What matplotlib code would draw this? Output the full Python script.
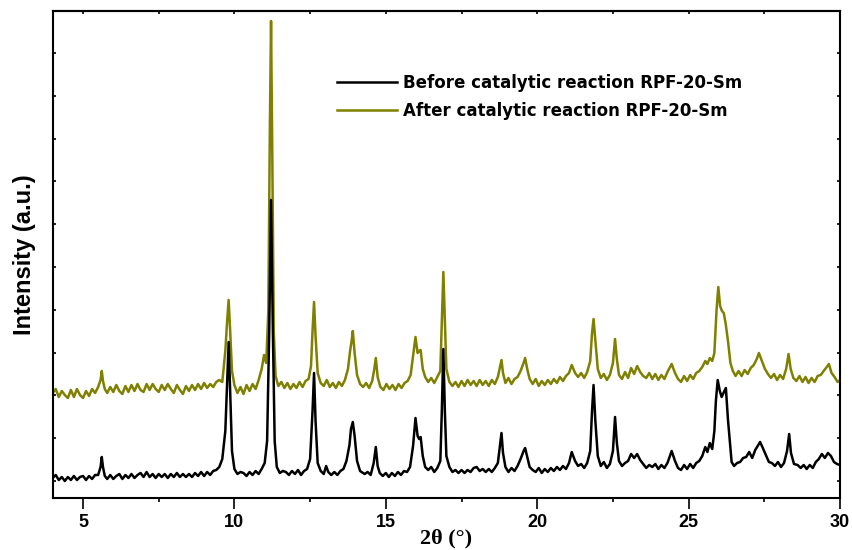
import matplotlib
matplotlib.use("Agg")
import matplotlib.pyplot as plt
from matplotlib.ticker import MultipleLocator

# 2theta (deg) and intensity (a.u.)
before_2theta = [
    4.0, 4.1, 4.2, 4.3, 4.4, 4.5, 4.6, 4.7, 4.8, 4.9, 5.0, 5.1, 5.2, 5.3, 5.4, 5.5,
    5.58, 5.62, 5.66, 5.72, 5.8, 5.9, 6.0, 6.1, 6.2, 6.3, 6.4, 6.5, 6.6, 6.7, 6.8, 6.9,
    7.0, 7.1, 7.2, 7.3, 7.4, 7.5, 7.6, 7.7, 7.8, 7.9, 8.0, 8.1, 8.2, 8.3, 8.4, 8.5,
    8.6, 8.7, 8.8, 8.9, 9.0, 9.1, 9.2, 9.3, 9.4, 9.5, 9.6, 9.7, 9.76, 9.81, 9.86, 9.92,
    10.0, 10.1, 10.2, 10.3, 10.4, 10.5, 10.6, 10.7, 10.8, 10.9, 11.0, 11.08, 11.15, 11.21,
    11.27, 11.33, 11.4, 11.5, 11.6, 11.7, 11.8, 11.9, 12.0, 12.1, 12.2, 12.3, 12.4, 12.5,
    12.58, 12.63, 12.68, 12.75, 12.85, 12.95, 13.03, 13.1, 13.2, 13.3, 13.4, 13.5, 13.6,
    13.7, 13.8, 13.85, 13.91, 13.97, 14.05, 14.15, 14.3, 14.4, 14.5, 14.6, 14.67, 14.73,
    14.8, 14.9, 15.0, 15.1, 15.2, 15.3, 15.4, 15.5, 15.6, 15.7, 15.8, 15.9, 15.98, 16.05,
    16.1, 16.15, 16.22, 16.3, 16.4, 16.5, 16.6, 16.7, 16.8, 16.85, 16.9, 16.95, 17.0, 17.1,
    17.2, 17.3, 17.4, 17.5, 17.6, 17.7, 17.8, 17.9, 18.0, 18.1, 18.2, 18.3, 18.4, 18.5,
    18.6, 18.7, 18.77, 18.82, 18.87, 18.95, 19.05, 19.15, 19.25, 19.35, 19.45, 19.55, 19.6,
    19.67, 19.75, 19.85, 19.95, 20.05, 20.15, 20.25, 20.35, 20.45, 20.55, 20.65, 20.75,
    20.85, 20.95, 21.05, 21.14, 21.25, 21.35, 21.45, 21.55, 21.65, 21.75, 21.81, 21.86,
    21.92, 22.0, 22.1, 22.2, 22.3, 22.4, 22.5, 22.57, 22.63, 22.7, 22.8, 22.9, 23.0, 23.1,
    23.2, 23.3, 23.4, 23.5, 23.6, 23.7, 23.8, 23.9, 24.0, 24.1, 24.2, 24.3, 24.44, 24.55,
    24.65, 24.75, 24.85, 24.95, 25.05, 25.15, 25.25, 25.35, 25.45, 25.55, 25.62, 25.7,
    25.78, 25.85, 25.9, 25.96, 26.03, 26.09, 26.15, 26.23, 26.3, 26.36, 26.42, 26.5, 26.6,
    26.7, 26.8, 26.9, 27.0, 27.1, 27.2, 27.3, 27.36, 27.45, 27.55, 27.65, 27.75, 27.85,
    27.95, 28.05, 28.15, 28.25, 28.32, 28.38, 28.48, 28.6, 28.7, 28.8, 28.9, 29.0, 29.1,
    29.2, 29.3, 29.4, 29.5, 29.6, 29.7, 29.8, 29.9, 30.0,
]
before_intensity = [
    3, 6, 1, 4, 0, 4, 1, 5, 1, 4, 5, 1, 5, 2, 6, 6,
    14, 24, 14, 5, 2, 6, 2, 5, 7, 2, 6, 3, 7, 3, 6, 8,
    4, 9, 4, 7, 3, 7, 4, 7, 3, 7, 4, 8, 4, 7, 4, 7,
    4, 8, 5, 9, 5, 9, 6, 10, 11, 14, 22, 50, 100, 139, 90, 30,
    12, 7, 9, 8, 5, 9, 6, 10, 7, 12, 18, 40, 150, 281,
    150, 40, 14, 8, 10, 9, 6, 10, 7, 11, 6, 10, 12, 22,
    70, 108, 60, 18, 10, 7, 15, 9, 6, 9, 6, 10, 12,
    20, 36, 52, 59, 45, 20, 10, 7, 9, 6, 18, 34, 15,
    8, 5, 8, 4, 8, 5, 9, 6, 10, 9, 14, 35, 63, 45,
    42, 44, 25, 14, 11, 14, 9, 13, 20, 70, 132, 70, 25, 14,
    9, 11, 8, 11, 8, 11, 9, 13, 14, 10, 12, 9, 12, 9,
    13, 18, 35, 48, 28, 14, 9, 13, 10, 15, 22, 30, 33,
    24, 14, 11, 9, 13, 8, 12, 9, 13, 10, 14, 11,
    15, 12, 18, 29, 20, 15, 17, 13, 18, 30, 70, 96,
    60, 25, 15, 19, 13, 17, 30, 64, 38, 20, 15, 18, 20, 27,
    23, 27, 21, 17, 13, 16, 14, 17, 12, 16, 13, 18, 30, 20,
    13, 11, 16, 12, 17, 13, 18, 20, 25, 34, 29, 38,
    32, 50, 80, 101, 90, 84, 88, 93, 61, 40, 19, 15, 18,
    19, 23, 24, 29, 23, 31, 36, 39, 33, 26, 19, 18, 15,
    19, 14, 18, 30, 47, 28, 17, 16, 13, 16, 12, 16, 13,
    19, 22, 27, 23, 28, 25, 19, 17, 16,
]

after_2theta = [
    4.0, 4.1, 4.2, 4.3, 4.4, 4.5, 4.6, 4.7, 4.8, 4.9, 5.0, 5.1, 5.2, 5.3, 5.4, 5.5,
    5.58, 5.62, 5.66, 5.72, 5.8, 5.9, 6.0, 6.1, 6.2, 6.3, 6.4, 6.5, 6.6, 6.7, 6.8, 6.9,
    7.0, 7.1, 7.2, 7.3, 7.4, 7.5, 7.6, 7.7, 7.8, 7.9, 8.0, 8.1, 8.2, 8.3, 8.4, 8.5,
    8.6, 8.7, 8.8, 8.9, 9.0, 9.1, 9.2, 9.3, 9.4, 9.5, 9.6, 9.7, 9.76, 9.81, 9.86, 9.92,
    10.0, 10.1, 10.2, 10.3, 10.4, 10.5, 10.6, 10.7, 10.8, 10.9, 10.98, 11.05, 11.12, 11.17,
    11.21, 11.25, 11.3, 11.36, 11.45, 11.55, 11.65, 11.75, 11.85, 11.95, 12.05, 12.15,
    12.25, 12.35, 12.45, 12.53, 12.58, 12.63, 12.68, 12.75, 12.85, 12.95, 13.05, 13.15,
    13.25, 13.35, 13.45, 13.55, 13.65, 13.75, 13.82, 13.87, 13.91, 13.97, 14.05, 14.15,
    14.25, 14.35, 14.45, 14.55, 14.62, 14.67, 14.73, 14.82, 14.92, 15.02, 15.12, 15.22,
    15.32, 15.42, 15.52, 15.62, 15.72, 15.82, 15.9, 15.98, 16.05, 16.1, 16.15, 16.22,
    16.3, 16.4, 16.5, 16.6, 16.7, 16.8, 16.85, 16.9, 16.95, 17.0, 17.1, 17.2, 17.3, 17.4,
    17.5, 17.6, 17.7, 17.8, 17.9, 18.0, 18.1, 18.2, 18.3, 18.4, 18.5, 18.6, 18.7, 18.77,
    18.82, 18.87, 18.95, 19.05, 19.15, 19.25, 19.35, 19.45, 19.55, 19.6, 19.67, 19.75,
    19.85, 19.95, 20.05, 20.15, 20.25, 20.35, 20.45, 20.55, 20.65, 20.75, 20.85, 20.95,
    21.05, 21.14, 21.25, 21.35, 21.45, 21.55, 21.65, 21.75, 21.81, 21.86, 21.92, 22.0,
    22.1, 22.2, 22.3, 22.4, 22.5, 22.57, 22.63, 22.7, 22.8, 22.9, 23.0, 23.1, 23.2, 23.3,
    23.4, 23.5, 23.6, 23.7, 23.8, 23.9, 24.0, 24.1, 24.2, 24.3, 24.44, 24.55, 24.65,
    24.75, 24.85, 24.95, 25.05, 25.15, 25.25, 25.35, 25.45, 25.55, 25.62, 25.7, 25.78,
    25.85, 25.92, 25.98, 26.04, 26.1, 26.16, 26.22, 26.3, 26.38, 26.46, 26.55, 26.65,
    26.75, 26.85, 26.95, 27.05, 27.15, 27.25, 27.32, 27.42, 27.52, 27.62, 27.72, 27.82,
    27.92, 28.02, 28.12, 28.22, 28.3, 28.37, 28.46, 28.56, 28.66, 28.76, 28.86, 28.96,
    29.06, 29.16, 29.26, 29.36, 29.46, 29.56, 29.63, 29.72, 29.82, 29.92, 30.0,
]
after_intensity = [
    88, 92, 84, 90, 86, 83, 91, 84, 92, 86, 83, 90, 85, 92, 88, 94,
    101, 110, 100, 92, 88, 94, 89, 96, 90, 87, 95, 89, 96, 90, 97, 91,
    89, 97, 91, 97, 92, 89, 96, 91, 97, 92, 88, 96, 91, 87, 95, 90,
    96, 91, 97, 92, 98, 93, 97, 94, 99, 101, 99, 130, 160, 181, 150, 110,
    96, 88, 94, 87, 96, 90, 97, 92, 101, 112, 126, 118, 170, 350,
    460, 330, 150, 105, 95, 99, 93, 98, 92, 97, 93, 99,
    94, 100, 102, 115, 150, 179, 145, 108, 98, 95, 101, 94,
    98, 93, 99, 95, 101, 112, 130, 140, 150, 128, 106, 97,
    94, 98, 93, 100, 112, 123, 104, 94, 91, 97, 92, 96,
    91, 97, 93, 98, 100, 106, 125, 144, 128, 130, 131, 112,
    104, 99, 103, 98, 104, 110, 160, 209, 160, 112, 99, 95, 99, 94,
    100, 95, 101, 96, 100, 95, 101, 96, 100, 95, 101, 97, 104, 114,
    121, 108, 98, 103, 97, 102, 104, 110, 118, 123, 112, 102,
    97, 102, 95, 100, 96, 101, 97, 102, 98, 104, 100, 105,
    108, 116, 108, 104, 108, 103, 109, 120, 148, 162, 140, 112,
    103, 107, 101, 106, 118, 142, 122, 106, 102, 109, 103, 113, 107, 115,
    109, 105, 103, 108, 102, 107, 101, 106, 102, 109, 117, 108, 102,
    99, 105, 100, 106, 102, 108, 110, 114, 120, 117, 123, 120,
    128, 170, 194, 175, 170, 168, 158, 140, 118, 110, 105, 110,
    105, 111, 107, 113, 116, 122, 128, 120, 112, 107, 103, 107,
    101, 106, 102, 112, 127, 112, 103, 100, 105, 99, 104, 98,
    103, 99, 105, 106, 110, 114, 117, 108, 104, 99, 101,
]

before_label = "Before catalytic reaction RPF-20-Sm"
after_label = "After catalytic reaction RPF-20-Sm"

sans = "Liberation Sans"
serif = "Liberation Serif"

fig = plt.figure(figsize=(8.53, 5.5), dpi=100)
ax = fig.add_axes([0.0618, 0.0951, 0.923, 0.8849])

ax.plot(after_2theta, after_intensity, "-", lw=1.8, color="#808000", label=after_label)
ax.plot(before_2theta, before_intensity, "-", lw=1.8, color="black", label=before_label)

ax.set_xlim(4, 30)
ax.set_ylim(-16.7, 470)

ax.xaxis.set_major_locator(MultipleLocator(5))
ax.xaxis.set_minor_locator(MultipleLocator(2.5))
ax.yaxis.set_major_locator(MultipleLocator(42.8))

ax.tick_params(axis="x", which="major", direction="out", length=8, width=1.2, pad=4,
               labelsize=13)
ax.tick_params(axis="x", which="minor", direction="out", length=3, width=1.2)
ax.tick_params(axis="y", which="major", direction="in", length=2.5, width=1.2,
               left=True, right=True, labelleft=False)
for lab in ax.get_xticklabels():
    lab.set_fontfamily(sans)
    lab.set_fontweight("bold")

# small inward ticks along the top edge
top = ax.secondary_xaxis("top")
top.xaxis.set_major_locator(MultipleLocator(2.5))
top.tick_params(direction="in", length=2, width=1.2, labeltop=False)

for side in ["left", "right", "top", "bottom"]:
    ax.spines[side].set_linewidth(1.5)
top.spines["top"].set_linewidth(1.5)

ax.set_xlabel("2\u03b8 (\u00b0)", fontfamily=serif, fontweight="bold", fontsize=16, labelpad=-2)
ax.set_ylabel("Intensity (a.u.)", fontfamily=sans, fontweight="bold", fontsize=17, labelpad=12)

handles, labels = ax.get_legend_handles_labels()
ax.legend(handles[::-1], labels[::-1], loc="upper left", bbox_to_anchor=(0.361, 0.87),
          frameon=False, borderpad=0, borderaxespad=0, handlelength=3.6,
          handletextpad=0.35, labelspacing=0.6,
          prop={"family": "DejaVu Sans", "weight": "bold", "size": 12})

fig.savefig("out.png", dpi=100)
